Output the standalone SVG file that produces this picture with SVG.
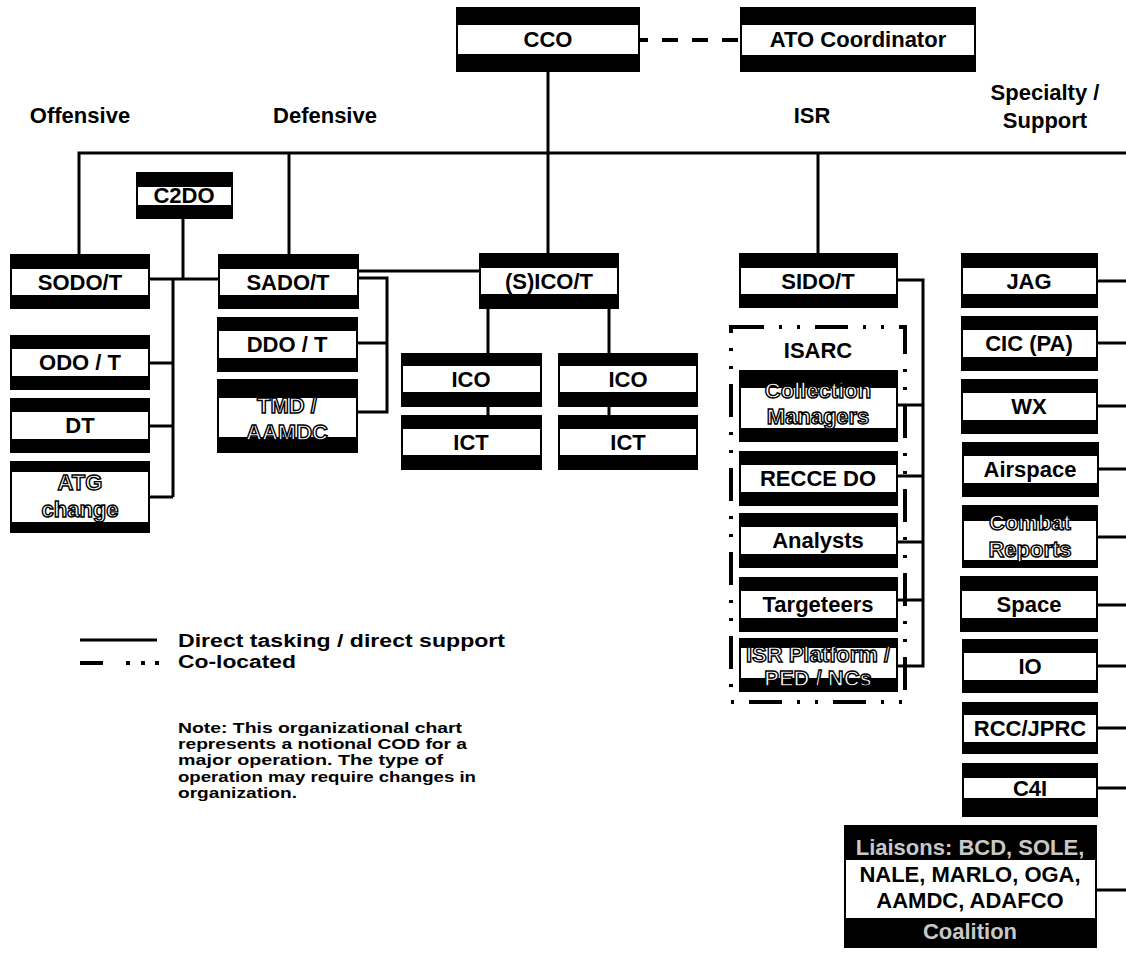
<svg xmlns="http://www.w3.org/2000/svg" width="1126" height="958" viewBox="0 0 1126 958">
<style>
.bx{fill:#000}
.bd{fill:#fff}
.t{font-family:"Liberation Sans",Arial,sans-serif;font-weight:bold;font-size:22px;text-anchor:middle;fill:#000}
.o{fill:#fff;stroke:#000;stroke-width:1.4px}
.g{fill:#c8c8c8}
.h{font-family:"Liberation Sans",Arial,sans-serif;font-weight:bold;font-size:22px;text-anchor:middle;fill:#000}
.n{font-family:"Liberation Sans",Arial,sans-serif;font-weight:bold;font-size:18px;fill:#000}
.m{font-family:"Liberation Sans",Arial,sans-serif;font-weight:bold;font-size:15px;fill:#000}
.ln{stroke:#000;stroke-width:3;fill:none}
.dash{stroke:#000;stroke-width:4;fill:none;stroke-dasharray:16 14;stroke-dashoffset:8}
.dd{stroke:#000;stroke-width:4;fill:none;stroke-dasharray:33 15 3 15 3 15}
</style>
<rect width="1126" height="958" fill="#fff"/>

<g id="headings">
<text class="h" x="80" y="123">Offensive</text>
<text class="h" x="325" y="123">Defensive</text>
<text class="h" x="812" y="123">ISR</text>
<text class="h" x="1045" y="100">Specialty /</text>
<text class="h" x="1045" y="128">Support</text>
</g>

<g id="connectors">
<path class="dash" d="M640,40 H740"/>
<path class="ln" d="M79,254 V153 H1126"/>
<path class="ln" d="M289,153 V254"/>
<path class="ln" d="M548,72 V253"/>
<path class="ln" d="M818,153 V253"/>
<path class="ln" d="M183,219 V279"/>
<path class="ln" d="M150,279 H218"/>
<path class="ln" d="M173,279 V497"/>
<path class="ln" d="M150,363 H173 M150,426 H173 M150,497 H173"/>
<path class="ln" d="M359,271 H479"/>
<path class="ln" d="M359,278 H387 V412 H358 M358,343 H387"/>
<path class="ln" d="M488,309 V353 M488,407 V415 M609,309 V353 M609,407 V415"/>
<path class="ln" d="M898,280 H923 V666 H898 M898,405 H923 M898,476 H923 M898,542 H923 M898,600 H923"/>
<path class="ln" d="M1098,281 H1126 M1098,343 H1126 M1098,406 H1126 M1099,469 H1126 M1098,537 H1126 M1098,605 H1126 M1098,666 H1126 M1098,728 H1126 M1098,788 H1126 M1097,890 H1126"/>
<rect class="dd" x="731" y="327" width="174" height="375"/>
</g>

<g id="cco"><rect class="bx" x="456" y="7" width="184" height="65"/><rect class="bd" x="458" y="25" width="180" height="29"/><text class="t" x="548" y="47">CCO</text></g>
<g id="ato"><rect class="bx" x="740" y="7" width="236" height="65"/><rect class="bd" x="742" y="25" width="232" height="30"/><text class="t" x="858" y="47">ATO Coordinator</text></g>

<g id="c2do"><rect class="bx" x="136" y="172" width="97" height="47"/><rect class="bd" x="138" y="187" width="93" height="18"/><text class="t" x="184" y="203">C2DO</text></g>
<g id="sodo"><rect class="bx" x="10" y="254" width="140" height="55"/><rect class="bd" x="12" y="269" width="136" height="26"/><text class="t" x="80" y="290">SODO/T</text></g>
<g id="odo"><rect class="bx" x="10" y="335" width="140" height="55"/><rect class="bd" x="12" y="349" width="136" height="27"/><text class="t" x="80" y="370">ODO / T</text></g>
<g id="dt"><rect class="bx" x="10" y="398" width="140" height="55"/><rect class="bd" x="12" y="412" width="136" height="27"/><text class="t" x="80" y="433">DT</text></g>
<g id="atg"><rect class="bx" x="10" y="461" width="140" height="72"/><rect class="bd" x="12" y="472" width="136" height="50"/><text class="t o" x="80" y="490">ATG</text><text class="t o" x="80" y="517">change</text></g>

<g id="sado"><rect class="bx" x="218" y="254" width="141" height="55"/><rect class="bd" x="220" y="269" width="137" height="26"/><text class="t" x="288" y="290">SADO/T</text></g>
<g id="ddo"><rect class="bx" x="217" y="317" width="141" height="55"/><rect class="bd" x="219" y="331" width="137" height="27"/><text class="t" x="287" y="352">DDO / T</text></g>
<g id="tmd"><rect class="bx" x="217" y="379" width="141" height="74"/><rect class="bd" x="219" y="398" width="137" height="39"/><text class="t o" x="287" y="413">TMD /</text><text class="t o" x="287" y="440">AAMDC</text></g>

<g id="sico"><rect class="bx" x="479" y="253" width="140" height="56"/><rect class="bd" x="481" y="268" width="136" height="26"/><text class="t" x="549" y="289">(S)ICO/T</text></g>
<g id="ico1"><rect class="bx" x="401" y="353" width="141" height="54"/><rect class="bd" x="403" y="366" width="137" height="26"/><text class="t" x="471" y="387">ICO</text></g>
<g id="ict1"><rect class="bx" x="401" y="415" width="141" height="55"/><rect class="bd" x="403" y="429" width="137" height="26"/><text class="t" x="471" y="450">ICT</text></g>
<g id="ico2"><rect class="bx" x="558" y="353" width="140" height="54"/><rect class="bd" x="560" y="366" width="136" height="26"/><text class="t" x="628" y="387">ICO</text></g>
<g id="ict2"><rect class="bx" x="558" y="415" width="140" height="55"/><rect class="bd" x="560" y="429" width="136" height="26"/><text class="t" x="628" y="450">ICT</text></g>

<g id="sido"><rect class="bx" x="739" y="253" width="159" height="55"/><rect class="bd" x="741" y="268" width="155" height="26"/><text class="t" x="818" y="289">SIDO/T</text></g>
<g id="isarc"><text class="t" x="818" y="358">ISARC</text></g>
<g id="collection"><rect class="bx" x="739" y="370" width="159" height="72"/><rect class="bd" x="741" y="388" width="155" height="40"/><text class="t o" x="818" y="398">Collection</text><text class="t o" x="818" y="424">Managers</text></g>
<g id="recce"><rect class="bx" x="739" y="451" width="159" height="55"/><rect class="bd" x="741" y="465" width="155" height="27"/><text class="t" x="818" y="486">RECCE DO</text></g>
<g id="analysts"><rect class="bx" x="739" y="513" width="159" height="55"/><rect class="bd" x="741" y="527" width="155" height="27"/><text class="t" x="818" y="548">Analysts</text></g>
<g id="targeteers"><rect class="bx" x="739" y="577" width="159" height="55"/><rect class="bd" x="741" y="591" width="155" height="27"/><text class="t" x="818" y="612">Targeteers</text></g>
<g id="isrplatform"><rect class="bx" x="739" y="638" width="159" height="54"/><rect class="bd" x="741" y="648" width="155" height="30"/><text class="t o" x="818" y="662">ISR Platform /</text><text class="t o" x="818" y="686">PED / NCs</text></g>

<g id="jag"><rect class="bx" x="961" y="253" width="137" height="55"/><rect class="bd" x="963" y="268" width="133" height="26"/><text class="t" x="1029" y="289">JAG</text></g>
<g id="cic"><rect class="bx" x="961" y="316" width="137" height="55"/><rect class="bd" x="963" y="330" width="133" height="27"/><text class="t" x="1029" y="351">CIC (PA)</text></g>
<g id="wx"><rect class="bx" x="961" y="379" width="137" height="55"/><rect class="bd" x="963" y="393" width="133" height="27"/><text class="t" x="1029" y="414">WX</text></g>
<g id="airspace"><rect class="bx" x="962" y="442" width="137" height="55"/><rect class="bd" x="964" y="456" width="133" height="27"/><text class="t" x="1030" y="477">Airspace</text></g>
<g id="combat"><rect class="bx" x="962" y="505" width="136" height="63"/><rect class="bd" x="964" y="521" width="132" height="39"/><text class="t o" x="1030" y="530">Combat</text><text class="t o" x="1030" y="557">Reports</text></g>
<g id="space"><rect class="bx" x="960" y="576" width="138" height="56"/><rect class="bd" x="962" y="591" width="134" height="27"/><text class="t" x="1029" y="612">Space</text></g>
<g id="io"><rect class="bx" x="962" y="639" width="136" height="54"/><rect class="bd" x="964" y="653" width="132" height="27"/><text class="t" x="1030" y="674">IO</text></g>
<g id="rcc"><rect class="bx" x="962" y="702" width="136" height="52"/><rect class="bd" x="964" y="715" width="132" height="27"/><text class="t" x="1030" y="736">RCC/JPRC</text></g>
<g id="c4i"><rect class="bx" x="962" y="763" width="136" height="54"/><rect class="bd" x="964" y="778" width="132" height="20"/><text class="t" x="1030" y="796">C4I</text></g>
<g id="liaisons"><rect class="bx" x="844" y="825" width="253" height="123"/><rect class="bd" x="846" y="860" width="249" height="58"/><text class="t g" x="970" y="855">Liaisons: BCD, SOLE,</text><text class="t" x="970" y="882">NALE, MARLO, OGA,</text><text class="t" x="970" y="908">AAMDC, ADAFCO</text><text class="t g" x="970" y="939">Coalition</text></g>

<g id="legend">
<path class="ln" d="M80,640 H157"/>
<path d="M80,663 H103" stroke="#000" stroke-width="4"/>
<rect x="126" y="661" width="4" height="4"/><rect x="141" y="661" width="4" height="4"/><rect x="155" y="661" width="4" height="4"/>
<text class="n" x="178" y="647" textLength="327" lengthAdjust="spacingAndGlyphs">Direct tasking / direct support</text>
<text class="n" x="178" y="668" textLength="118" lengthAdjust="spacingAndGlyphs">Co-located</text>
</g>
<g id="note">
<text class="m" x="178" y="733" textLength="284" lengthAdjust="spacingAndGlyphs">Note: This organizational chart</text>
<text class="m" x="178" y="749" textLength="289" lengthAdjust="spacingAndGlyphs">represents a notional COD for a</text>
<text class="m" x="178" y="765" textLength="265" lengthAdjust="spacingAndGlyphs">major operation. The type of</text>
<text class="m" x="178" y="782" textLength="298" lengthAdjust="spacingAndGlyphs">operation may require changes in</text>
<text class="m" x="178" y="798" textLength="119" lengthAdjust="spacingAndGlyphs">organization.</text>
</g>
</svg>
